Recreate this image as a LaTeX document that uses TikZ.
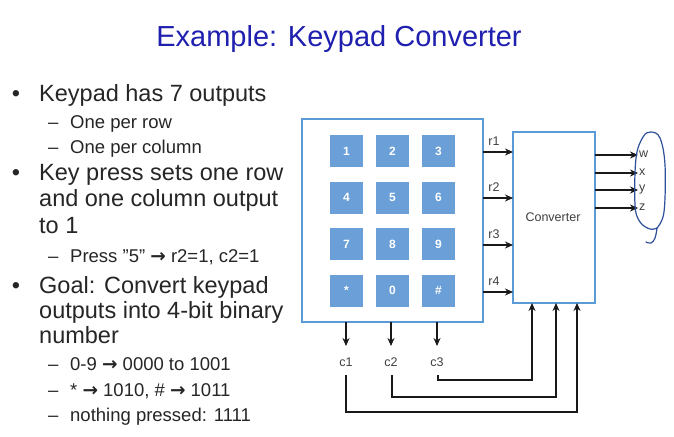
\documentclass[tikz,border=0pt]{standalone}
\usepackage{fontspec}
\setmainfont{Liberation Sans}
\newfontfamily\arrowfont{DejaVu Sans}
\newcommand{\rarr}{{\arrowfont\bfseries →}}
\usetikzlibrary{arrows.meta}
\definecolor{titleblue}{HTML}{2020B0}
\definecolor{bodytext}{HTML}{262626}
\definecolor{boxblue}{HTML}{5A9BD5}
\definecolor{keyblue}{HTML}{6A9FD8}
\definecolor{inkblue}{HTML}{2E4F9A}
\tikzset{
  bodyline/.style={anchor=base west, text=bodytext, inner sep=0pt, font=\fontsize{23.5}{26}\selectfont},
  subline/.style={anchor=base west, text=bodytext, inner sep=0pt, font=\fontsize{18.5}{21}\selectfont},
  bulletmark/.style={anchor=base, text=bodytext, inner sep=0pt, font=\fontsize{23.5}{26}\selectfont},
  dashmark/.style={anchor=base west, text=bodytext, inner sep=0pt, font=\fontsize{18.5}{21}\selectfont},
  keyface/.style={fill=keyblue, minimum width=33pt, minimum height=32pt, inner sep=0pt,
    text=white, font=\fontsize{12}{14}\selectfont\bfseries},
  blockbox/.style={draw=boxblue, line width=1.3pt, fill=white},
  sig/.style={draw=black!90, line width=1.1pt, -{Stealth[length=8pt,width=7pt]}},
  wire/.style={draw=black!80, line width=1.0pt},
  siglabel/.style={text=black!75, inner sep=0pt, font=\fontsize{12.5}{14}\selectfont},
}
\begin{document}
\begin{tikzpicture}[x=1pt,y=-1pt]
\useasboundingbox (0,0) rectangle (674,436);
\fill[white] (0,0) rectangle (674,436);

% title
\node[text=titleblue, anchor=base, inner sep=0pt, font=\fontsize{29}{32}\selectfont] (title) at (339,47) {Example: Keypad Converter};

% bullet list
\node[bulletmark] (b1) at (16,101) {•};
\node[bodyline] (t1) at (39,101) {Keypad has 7 outputs};
\node[dashmark] (d11) at (48,128) {–};
\node[subline] (s11) at (70,128) {One per row};
\node[dashmark] (d12) at (48,153) {–};
\node[subline] (s12) at (70,153) {One per column};
\node[bulletmark] (b2) at (16,180) {•};
\node[bodyline] (t2a) at (39,180) {Key press sets one row};
\node[bodyline] (t2b) at (39,206) {and one column output};
\node[bodyline] (t2c) at (39,233) {to 1};
\node[dashmark] (d21) at (48,262) {–};
\node[subline] (s21) at (70,262) {Press "5" \rarr{} r2=1, c2=1};
\node[bulletmark] (b3) at (16,293) {•};
\node[bodyline] (t3a) at (39,293) {Goal: Convert keypad};
\node[bodyline] (t3b) at (39,318) {outputs into 4-bit binary};
\node[bodyline] (t3c) at (39,343) {number};
\node[dashmark] (d31) at (48,370) {–};
\node[subline] (s31) at (70,370) {0-9 \rarr{} 0000 to 1001};
\node[dashmark] (d32) at (48,396) {–};
\node[subline] (s32) at (70,396) {* \rarr{} 1010, \# \rarr{} 1011};
\node[dashmark] (d33) at (48,421) {–};
\node[subline] (s33) at (70,421) {nothing pressed: 1111};

% keypad block
\draw[blockbox] (302,119) rectangle (483,322);
\foreach \lab [count=\i from 0] in {1,2,3,4,5,6,7,8,9,*,0,\#} {
  \pgfmathtruncatemacro{\col}{mod(\i,3)}
  \pgfmathtruncatemacro{\row}{div(\i,3)}
  \node[keyface] (key\i) at ({346.5+46*\col},{151+46.5*\row}) {\lab};
}

% converter block
\node[blockbox, minimum width=82pt, minimum height=171pt, inner sep=0pt] (conv) at (554,217.5) {};
\node[siglabel] (convlab) at (553,217) {Converter};

% row outputs r1..r4
\foreach \r/\y in {1/152,2/198,3/245,4/292} {
  \coordinate (rs\r) at (483,\y);
  \coordinate (re\r) at (513,\y);
  \draw[sig] (rs\r) -- (re\r);
  \node[siglabel] (rl\r) at (494,{\y-11}) {r\r};
}

% converter outputs w,x,y,z
\foreach \o/\y in {w/155,x/173,y/190,z/208} {
  \coordinate (os\o) at (595,\y);
  \coordinate (oe\o) at (638,\y);
  \draw[sig] (os\o) -- (oe\o);
  \node[siglabel, anchor=west] (ol\o) at (639,{\y-1}) {\o};
}

% column outputs c1..c3
\foreach \c/\x in {1/346,2/391,3/437} {
  \coordinate (cs\c) at (\x,322);
  \coordinate (ce\c) at (\x,346);
  \draw[sig] (cs\c) -- (ce\c);
  \node[siglabel] (cl\c) at (\x,362) {c\c};
}

% columns routed back into the converter
\coordinate (cin3) at (532,303);
\coordinate (cin2) at (556,303);
\coordinate (cin1) at (577,303);
\draw[wire, sig] (438,375) |- (532,380) -- (cin3);
\draw[wire, sig] (392,375) |- (556,397) -- (cin2);
\draw[wire, sig] (346,375) |- (577,412) -- (cin1);

% hand-drawn loop grouping the outputs
\draw[inkblue, line width=1.2pt, line cap=round]
  plot[smooth, tension=0.6] coordinates {(657,228) (664,212) (665,165) (660,138) (651,132) (643,137) (636,158) (635,205) (640,222) (650,229) (657,228)};
\draw[inkblue, line width=1.2pt, line cap=round]
  plot[smooth, tension=0.7] coordinates {(657,228) (655,238) (651,243) (646,242)};
\end{tikzpicture}
\end{document}
